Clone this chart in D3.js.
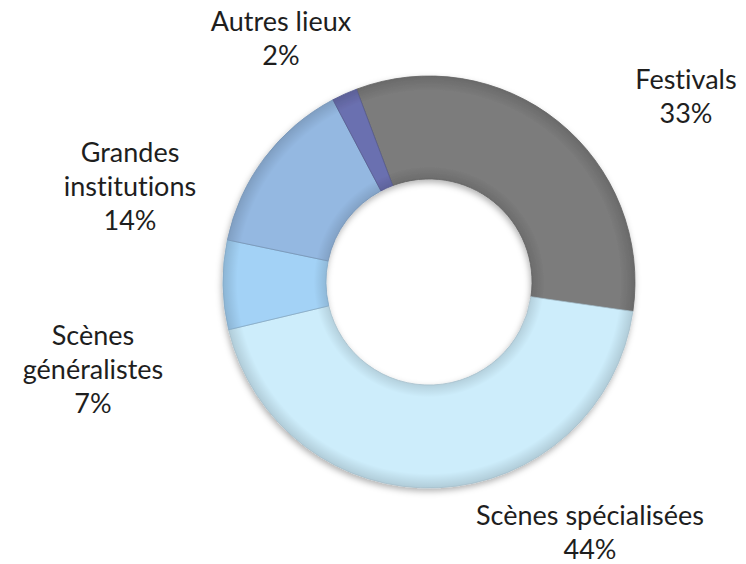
<!DOCTYPE html>
<html>
<head>
<meta charset="utf-8">
<script src="https://cdn.jsdelivr.net/npm/d3@7"></script>
<style>
  body { margin: 0; background: #fff; }
  text { font-family: Lato, "Open Sans", sans-serif; fill: #1e1e1e; font-variant-ligatures: none; font-feature-settings: "liga" 0; }
</style>
</head>
<body>
<div id="chart"></div>
<script>
// data
const categories = ["Festivals", "Scènes spécialisées", "Scènes généralistes", "Grandes institutions", "Autres lieux"];
const shares = [33, 44, 7, 14, 2];
const label_lines = [["Festivals"], ["Scènes spécialisées"], ["Scènes", "généralistes"], ["Grandes", "institutions"], ["Autres lieux"]];
const colors = ["#7b7b7b", "#cdedfb", "#a3d2f6", "#94b8e1", "#6b70b0"];

const fig_width = 746;
const fig_height = 564;
const cx = 429, cy = 282;
const outer_r = 206, inner_r = 103;
const start_deg = -20.6;

// where excel dropped each label block (offset of the first baseline from the centre)
const label_offsets = [[257, -193], [161, 243], [-336, 63], [-299, -120], [-148, -251]];
const line_gap = 34;

const svg = d3.select("#chart").append("svg")
    .attr("width", fig_width)
    .attr("height", fig_height);

const defs = svg.append("defs");
const shadow = defs.append("filter")
    .attr("id", "shadow")
    .attr("x", "-20%").attr("y", "-20%")
    .attr("width", "140%").attr("height", "140%");
shadow.append("feDropShadow")
    .attr("dx", -1).attr("dy", 3)
    .attr("stdDeviation", 3)
    .attr("flood-color", "#000")
    .attr("flood-opacity", 0.3);

// soft bevel: a bit darker at both rims of the ring
const bevel = defs.append("radialGradient")
    .attr("id", "bevel")
    .attr("gradientUnits", "userSpaceOnUse")
    .attr("cx", 0).attr("cy", 0).attr("r", outer_r);
[[0.5, 0.12], [0.56, 0], [0.93, 0], [1, 0.14]].forEach(s => {
    bevel.append("stop")
        .attr("offset", s[0])
        .attr("stop-color", "#000")
        .attr("stop-opacity", s[1]);
});

const pie = d3.pie()
    .sort(null)
    .value(d => d)
    .startAngle(start_deg * Math.PI / 180)
    .endAngle(start_deg * Math.PI / 180 + 2 * Math.PI);

const arc = d3.arc()
    .innerRadius(inner_r)
    .outerRadius(outer_r);

const g = svg.append("g")
    .attr("transform", `translate(${cx},${cy})`);

const slices = g.append("g")
    .attr("filter", "url(#shadow)")
    .selectAll("g")
    .data(pie(shares))
    .join("g");

slices.append("path")
    .attr("d", arc)
    .attr("fill", (d, i) => colors[i]);

slices.append("path")
    .attr("d", arc)
    .attr("fill", "url(#bevel)")
    .attr("stroke", (d, i) => d3.color(colors[i]).darker(0.6))
    .attr("stroke-width", 0.8);

const labels = g.append("g")
    .selectAll("text")
    .data(categories)
    .join("text")
    .attr("text-anchor", "middle")
    .attr("font-size", 27)
    .attr("x", (d, i) => label_offsets[i][0])
    .attr("y", (d, i) => label_offsets[i][1]);

labels.each(function(d, i) {
    const t = d3.select(this);
    const lines = label_lines[i].concat([shares[i] + "%"]);
    lines.forEach((ln, j) => {
        t.append("tspan")
            .attr("x", label_offsets[i][0])
            .attr("dy", j === 0 ? 0 : line_gap)
            .text(ln);
    });
});
</script>
</body>
</html>
